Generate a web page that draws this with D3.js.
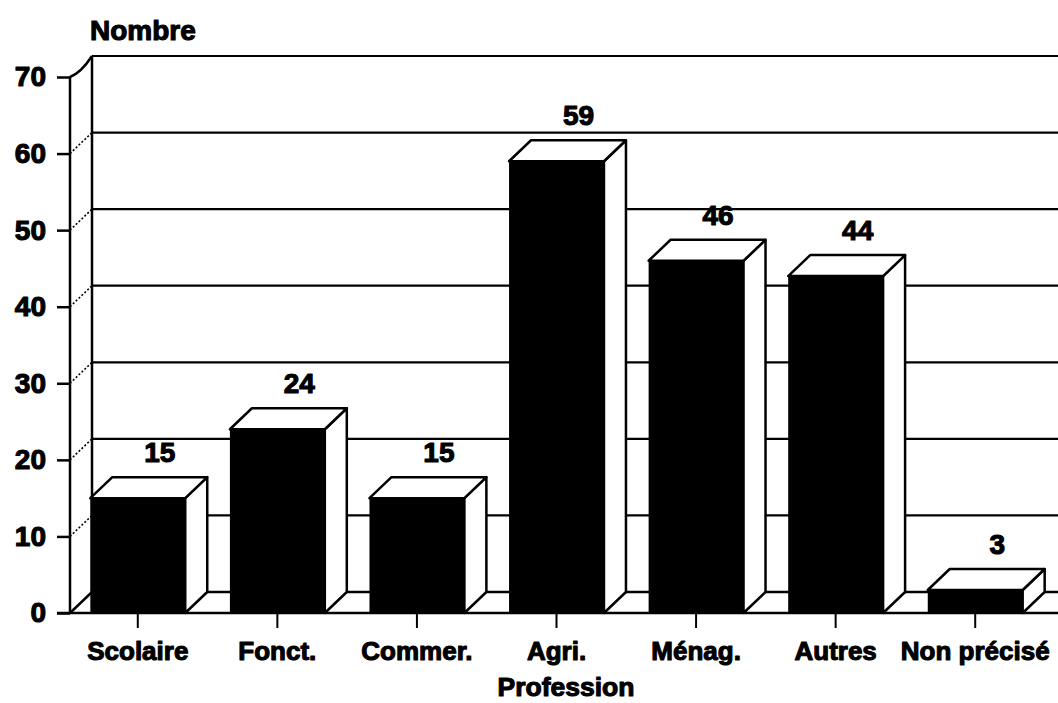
<!DOCTYPE html>
<html><head><meta charset="utf-8">
<script src="https://cdn.jsdelivr.net/npm/d3@7"></script>
<style>
html,body{margin:0;padding:0;background:#fff;}
text{font-family:"Liberation Sans",Arial,sans-serif;font-weight:bold;fill:#000;stroke:#000;stroke-width:1.1px;stroke-linejoin:round;}
</style></head>
<body><svg id="c" width="1058" height="703"></svg>
<script>
const categories = ["Scolaire","Fonct.","Commer.","Agri.","Ménag.","Autres","Non précisé"];
const values = [15,24,15,59,46,44,3];
const yTicks = [0,10,20,30,40,50,60,70];
const yTitle = "Nombre";
const xTitle = "Profession";

const svg = d3.select("#c");
const W = 1058;
const dx = 22, dy = 21;
const y = d3.scaleLinear().domain([0,70]).range([613,77]);
const x = d3.scaleBand().domain(categories).range([68,1045]).paddingInner(0.32).paddingOuter(0.16);
const y0 = y(0);
const axX = 70;
const lw = 2.5;
const FF = "Liberation Sans";

// back wall gridlines
yTicks.filter(t=>t>0).forEach(t=>{
  svg.append("line").attr("x1",axX+dx).attr("x2",W).attr("y1",y(t)-dy).attr("y2",y(t)-dy)
    .attr("stroke","#000").attr("stroke-width",2.2);
  if (t<70) {
    svg.append("line").attr("x1",axX).attr("y1",y(t)).attr("x2",axX+dx).attr("y2",y(t)-dy)
      .attr("stroke","#000").attr("stroke-width",1.6).attr("stroke-dasharray","2,2");
  }
});
// top curve at 70
svg.append("path").attr("d",`M${axX},${y(70)} Q${axX+dx*0.5},${y(70)-dy*0.2} ${axX+dx},${y(70)-dy}`)
  .attr("fill","none").attr("stroke","#000").attr("stroke-width",lw);
// back wall left edge
svg.append("line").attr("x1",axX+dx).attr("x2",axX+dx).attr("y1",y(70)-dy).attr("y2",y0-dy)
  .attr("stroke","#000").attr("stroke-width",lw);
// floor back line
svg.append("line").attr("x1",axX+dx).attr("x2",W).attr("y1",y0-dy).attr("y2",y0-dy)
  .attr("stroke","#000").attr("stroke-width",lw);
// floor left diagonal
svg.append("line").attr("x1",axX).attr("y1",y0).attr("x2",axX+dx).attr("y2",y0-dy)
  .attr("stroke","#000").attr("stroke-width",lw);

// y axis
const yAxis = d3.axisLeft(y).tickValues(yTicks).tickSize(13).tickPadding(11).tickFormat(d3.format("d"));
const gy = svg.append("g").attr("transform",`translate(${axX},0)`).call(yAxis);
gy.select(".domain").attr("stroke","#000").attr("stroke-width",lw).attr("d",`M0,${y(70)}V${y0}`);
gy.selectAll(".tick line").attr("stroke","#000").attr("stroke-width",lw);
gy.selectAll(".tick text").style("font-size","28px").style("font-family",FF).style("font-weight","bold").attr("fill","#000");

// bars
categories.forEach((c,i)=>{
  const v = values[i];
  const x0 = x(c), w = x.bandwidth(), yt = y(v);
  const g = svg.append("g");
  g.append("polygon").attr("points",[[x0+w,yt],[x0+w+dx,yt-dy],[x0+w+dx,y0-dy],[x0+w,y0]].join(" "))
    .attr("fill","#fff").attr("stroke","#000").attr("stroke-width",lw).attr("stroke-linejoin","round");
  g.append("polygon").attr("points",[[x0,yt],[x0+dx,yt-dy],[x0+w+dx,yt-dy],[x0+w,yt]].join(" "))
    .attr("fill","#fff").attr("stroke","#000").attr("stroke-width",lw).attr("stroke-linejoin","round");
  g.append("rect").attr("x",x0).attr("y",yt).attr("width",w).attr("height",y0-yt).attr("fill","#000");
  g.append("text").attr("x",x0+w/2+dx).attr("y",yt-dy-15).attr("text-anchor","middle")
    .style("font-size","28px").text(v);
});

// x axis baseline
const xAxis = d3.axisBottom(x).tickSize(15).tickPadding(14);
const gx = svg.append("g").attr("transform",`translate(0,${y0})`).call(xAxis);
gx.select(".domain").attr("stroke","#000").attr("stroke-width",lw).attr("d",`M${axX-13},0H${W}`);
gx.selectAll(".tick line").attr("stroke","#000").attr("stroke-width",2);
gx.selectAll(".tick text").style("font-size","26px").style("font-family",FF).style("font-weight","bold").attr("fill","#000");

// titles
svg.append("text").attr("x",90).attr("y",40).style("font-size","28px").text(yTitle);
svg.append("text").attr("x",566).attr("y",696).attr("text-anchor","middle").style("font-size","26.5px").text(xTitle);
</script></body></html>
